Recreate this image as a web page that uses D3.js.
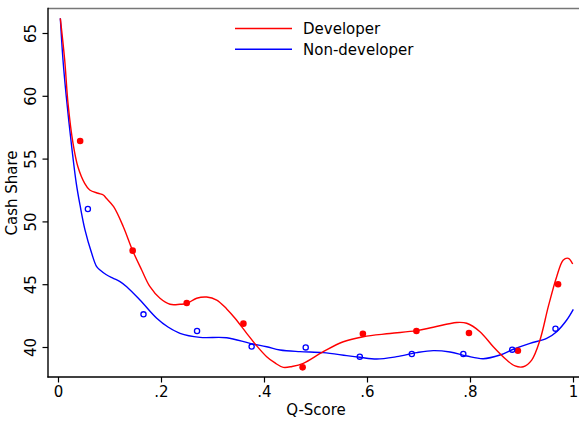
<!DOCTYPE html>
<html><head><meta charset="utf-8">
<script src="https://cdn.jsdelivr.net/npm/d3@7"></script>
<style>body{margin:0;background:#fff}svg{display:block}text{font-family:"DejaVu Sans",sans-serif;fill:#000}</style>
</head><body><svg id="c" width="579" height="421"></svg>
<script>
const xTicks = [0, 0.2, 0.4, 0.6, 0.8, 1];
const xTickLabels = ["0", ".2", ".4", ".6", ".8", "1"];
const yTicks = [40, 45, 50, 55, 60, 65];
const seriesNames = ["Developer", "Non-developer"];

const devPointsX = [0.043, 0.145, 0.25, 0.36, 0.475, 0.592, 0.696, 0.798, 0.893, 0.971];
const devPointsY = [56.4, 47.67, 43.5, 41.86, 38.38, 41.06, 41.27, 41.11, 39.7, 45.0];
const nonPointsX = [0.058, 0.166, 0.27, 0.376, 0.481, 0.586, 0.687, 0.787, 0.882, 0.966];
const nonPointsY = [50.99, 42.6, 41.27, 40.03, 39.97, 39.23, 39.44, 39.44, 39.79, 41.46];

const devCurveX = [0.0045,0.013,0.0194,0.0291,0.0388,0.0518,0.0616,0.0777,0.088,0.0938,0.108,0.1268,0.145,0.1625,0.1786,0.198,0.2175,0.2369,0.2499,0.2693,0.2887,0.3082,0.3276,0.3437,0.3664,0.3845,0.4052,0.4214,0.4375,0.4544,0.4763,0.5151,0.554,0.5928,0.6447,0.6965,0.7287,0.7742,0.7936,0.8194,0.8452,0.8713,0.8874,0.9035,0.9198,0.9359,0.952,0.9683,0.9812,0.9909,0.9994];
const devCurveY = [66.17,62.85,59.43,56.24,54.33,53.03,52.5,52.24,52.1,51.84,51.17,49.58,47.67,46.13,44.8,43.88,43.4,43.4,43.46,43.88,43.98,43.74,43.03,42.29,41.09,40.16,39.23,38.73,38.38,38.45,38.7,39.63,40.42,40.82,41.07,41.3,41.57,41.95,41.89,41.22,40.02,38.96,38.49,38.43,38.96,40.56,43.21,45.6,46.93,47.06,46.61];
const nonCurveX = [0.0045,0.0097,0.0161,0.0258,0.0355,0.0427,0.0524,0.0654,0.0751,0.0816,0.0932,0.1074,0.1204,0.1334,0.1592,0.1917,0.2136,0.2369,0.2757,0.3276,0.3728,0.4052,0.4311,0.4699,0.5151,0.5606,0.5864,0.6188,0.6577,0.6965,0.7287,0.7612,0.7936,0.8258,0.8583,0.8841,0.9165,0.9489,0.9683,0.9878,1.0006];
const nonCurveY = [66.17,62.85,59.93,56.22,53.03,51.31,49.32,47.46,46.39,46.13,45.77,45.47,45.21,44.8,43.74,42.29,41.59,41.09,40.77,40.74,40.29,40.02,39.76,39.63,39.55,39.31,39.18,39.04,39.23,39.55,39.71,39.6,39.28,39.07,39.36,39.82,40.29,40.69,41.22,42.15,43.0];

(function () {
const RED = "#ff0000", BLUE = "#0000ff";
const FS = "15px";
const svg = d3.select("#c");
const x = d3.scaleLinear().domain([0, 1]).range([58, 573]);
const y = d3.scaleLinear().domain([40, 65]).range([347, 33]);
const pLeft = 48, pRight = 579, pTop = 8.5, pBottom = 377;

// frame
svg.append("line").attr("x1", pLeft).attr("x2", pRight).attr("y1", pTop).attr("y2", pTop)
  .attr("stroke", "#777").attr("stroke-width", 1.6);
svg.append("line").attr("x1", pLeft).attr("x2", pLeft).attr("y1", pTop - 0.8).attr("y2", pBottom + 0.6)
  .attr("stroke", "#000").attr("stroke-width", 1.4);
svg.append("line").attr("x1", pLeft - 0.6).attr("x2", pRight).attr("y1", pBottom).attr("y2", pBottom)
  .attr("stroke", "#000").attr("stroke-width", 1.4);

// x axis
const xa = svg.append("g").attr("transform", `translate(0,${pBottom})`)
  .call(d3.axisBottom(x).tickValues(xTicks).tickFormat((d, i) => xTickLabels[i]).tickSize(5.5).tickPadding(4));
xa.select(".domain").remove();
xa.selectAll(".tick line").attr("stroke", "#000").attr("stroke-width", 1.2);
xa.selectAll(".tick text").style("font-size", FS).attr("font-family", "DejaVu Sans");

// y axis
const ya = svg.append("g").attr("transform", `translate(${pLeft},0)`)
  .call(d3.axisLeft(y).tickValues(yTicks).tickSize(5.5).tickPadding(4));
ya.select(".domain").remove();
ya.selectAll(".tick line").attr("stroke", "#000").attr("stroke-width", 1.2);
ya.selectAll(".tick text").style("font-size", FS).attr("font-family", "DejaVu Sans")
  .attr("x", null).attr("dy", null)
  .attr("text-anchor", "middle")
  .attr("transform", "translate(-12,0) rotate(-90)");

// axis titles
svg.append("text").attr("x", 316).attr("y", 415).attr("text-anchor", "middle")
  .style("font-size", FS).text("Q-Score");
svg.append("text").attr("transform", "translate(17,193) rotate(-90)").attr("text-anchor", "middle")
  .style("font-size", FS).text("Cash Share");

// curves
const line = d3.line().x(d => x(d[0])).y(d => y(d[1])).curve(d3.curveCatmullRom.alpha(0.5));
const devCurve = devCurveX.map((v, i) => [v, devCurveY[i]]);
const nonCurve = nonCurveX.map((v, i) => [v, nonCurveY[i]]);
svg.append("path").datum(nonCurve).attr("d", line).attr("fill", "none").attr("stroke", BLUE).attr("stroke-width", 1.4);
svg.append("path").datum(devCurve).attr("d", line).attr("fill", "none").attr("stroke", RED).attr("stroke-width", 1.4);

// points
svg.append("g").selectAll("circle").data(devPointsX.map((v, i) => [v, devPointsY[i]])).join("circle")
  .attr("cx", d => x(d[0])).attr("cy", d => y(d[1])).attr("r", 3.3).attr("fill", RED);
svg.append("g").selectAll("circle").data(nonPointsX.map((v, i) => [v, nonPointsY[i]])).join("circle")
  .attr("cx", d => x(d[0])).attr("cy", d => y(d[1])).attr("r", 2.6).attr("fill", "none")
  .attr("stroke", BLUE).attr("stroke-width", 1.3);

// legend
const lg = svg.append("g");
[RED, BLUE].forEach((c, i) => {
  const yy = 28.5 + i * 20.7;
  lg.append("line").attr("x1", 235).attr("x2", 292).attr("y1", yy).attr("y2", yy).attr("stroke", c).attr("stroke-width", 1.4);
  lg.append("text").attr("x", 303).attr("y", yy + 5.5).style("font-size", FS).text(seriesNames[i]);
});
})();
</script></body></html>
